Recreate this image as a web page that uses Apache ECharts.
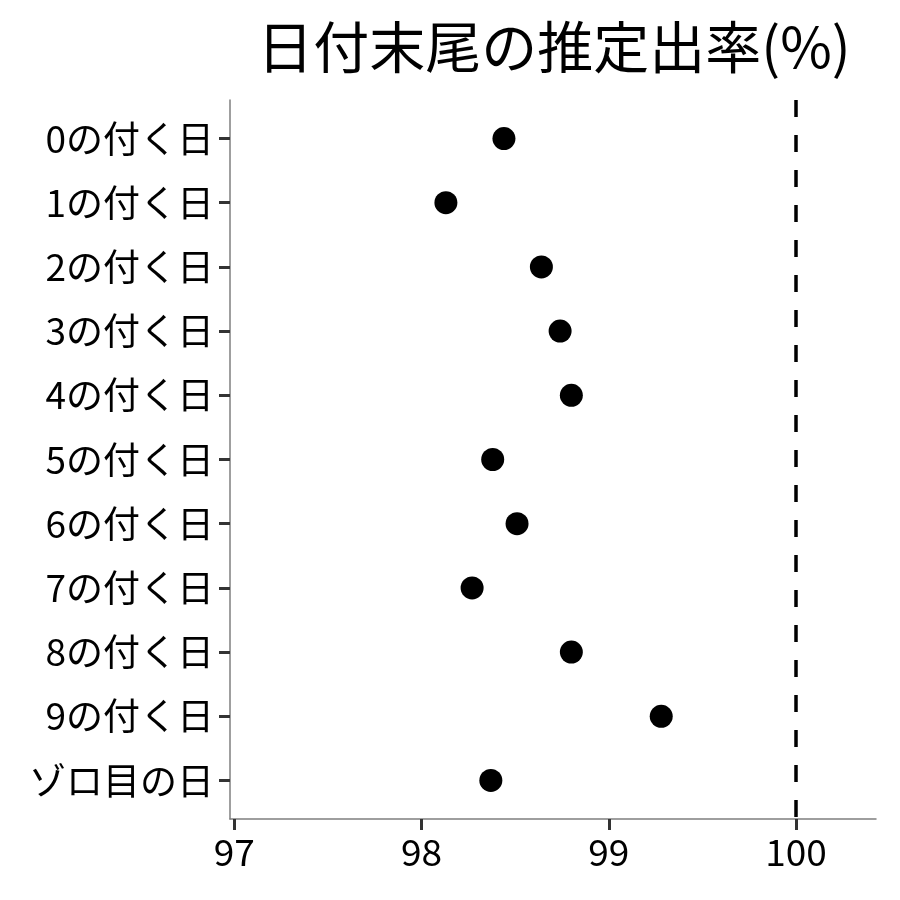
<!DOCTYPE html>
<html>
<head>
<meta charset="utf-8">
<script src="https://cdn.jsdelivr.net/npm/echarts@6/dist/echarts.min.js"></script>
<style>
  html, body { margin: 0; padding: 0; background: #fff; }
  #chart { width: 900px; height: 900px; }
</style>
</head>
<body>
<div id="chart"></div>
<script>
// categories, top to bottom
const categories = ["0の付く日", "1の付く日", "2の付く日", "3の付く日", "4の付く日",
  "5の付く日", "6の付く日", "7の付く日", "8の付く日", "9の付く日", "ゾロ目の日"];
// estimated payout rate (%)
const rates = [98.44, 98.13, 98.64, 98.74, 98.80, 98.38, 98.51, 98.27, 98.80, 99.28, 98.37];
const xTicks = [97, 98, 99, 100];
const refLine = 100;

const font = '"Noto Sans CJK JP", "Noto Sans", sans-serif';
const catIndex = categories.map((c, i) => i);

const chart = echarts.init(document.getElementById("chart"));
chart.setOption({
  animation: false,
  backgroundColor: "#fff",
  title: {
    text: "日付末尾の推定出率(%)",
    left: 549,
    textAlign: "center",
    top: 14,
    textStyle: { fontFamily: font, fontSize: 56, fontWeight: "normal", color: "#000" }
  },
  grid: { left: 230, right: 24, top: 100, bottom: 81 },
  xAxis: {
    type: "value",
    min: 96.977,
    max: 100.427,
    splitLine: { show: false },
    axisLine: { show: true, onZero: false, lineStyle: { color: "#7f7f7f", width: 1.5 } },
    axisTick: { show: true, customValues: xTicks, length: 11, lineStyle: { color: "#333", width: 3 } },
    axisLabel: {
      customValues: xTicks,
      margin: 14,
      color: "#000",
      fontFamily: font,
      fontSize: 37
    }
  },
  yAxis: {
    type: "value",
    inverse: true,
    min: -0.6,
    max: categories.length - 0.4,
    splitLine: { show: false },
    axisLine: { show: true, onZero: false, lineStyle: { color: "#7f7f7f", width: 1.5 } },
    axisTick: { show: true, customValues: catIndex, length: 11, lineStyle: { color: "#333", width: 3 } },
    axisLabel: {
      customValues: catIndex,
      margin: 16,
      color: "#000",
      fontFamily: font,
      fontSize: 37,
      formatter: v => categories[Math.round(v)]
    }
  },
  series: [{
    type: "scatter",
    symbol: "circle",
    symbolSize: 23,
    itemStyle: { color: "#000", opacity: 1 },
    data: rates.map((r, i) => [r, i]),
    markLine: {
      silent: true,
      symbol: "none",
      label: { show: false },
      lineStyle: { color: "#000", width: 3.5, type: [17, 18], opacity: 1 },
      data: [{ xAxis: refLine }]
    }
  }]
});
</script>
</body>
</html>
